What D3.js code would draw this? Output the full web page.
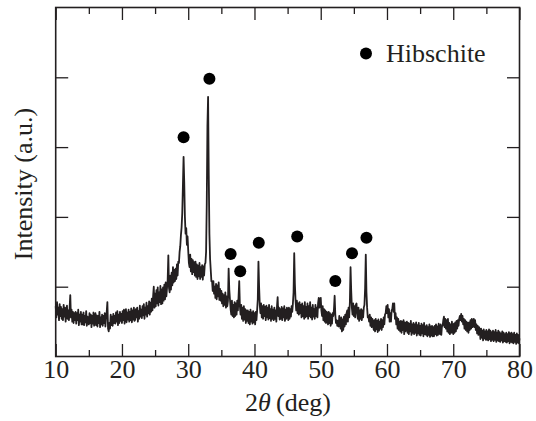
<!DOCTYPE html>
<html>
<head>
<meta charset="utf-8">
<script src="https://cdn.jsdelivr.net/npm/d3@7"></script>
<style>
  html, body { margin: 0; padding: 0; background: #fff; }
  svg { display: block; }
  text { font-family: "Liberation Serif", "Times New Roman", serif; fill: #231f20; }
</style>
</head>
<body>
<svg id="chart" width="536" height="421"></svg>
<script>
// ---- data ----
const angleStart = 10;     // 2θ of first sample (deg)
const angleStep = 0.1;     // sampling step (deg)
// intensity (a.u. x100), one row per degree (x.0 .. x.9), last value at 80.0
const intensity = `
72 56 78 60 70 52 75 58 71 54
68 52 74 57 70 50 64 73 54 66
52 70 88 56 67 50 64 48 62 52
64 47 62 52 67 45 60 50 64 46
60 46 63 45 58 49 65 44 57 48
46 62 48 60 42 58 47 63 44 56
62 45 59 43 58 48 64 42 56 46
60 44 58 48 62 43 56 64 78 40
36 48 40 60 45 57 44 61 48 58
47 63 50 65 45 60 48 64 51 61
48 65 52 67 47 61 68 49 63 53
67 50 64 52 69 49 66 53 70 51
53 68 56 70 50 65 54 73 57 67
55 72 59 75 54 70 60 77 57 72
62 79 60 77 64 83 66 86 100 70
90 72 95 76 99 73 92 78 101 75
96 76 99 80 103 82 106 86 98 110
145 98 92 116 96 120 102 128 106 124
108 126 111 132 116 136 134 150 158 174
185 205 245 286 250 200 176 184 160 172
152 134 128 146 122 140 118 138 121 135
116 136 114 132 111 130 115 134 111 128
114 131 110 129 116 132 134 150 220 330
372 260 175 140 124 108 108 94 108 90
100 84 104 82 102 86 106 81 97 80
94 76 90 72 88 74 92 70 86 72
80 126 96 82 68 60 80 58 74 56
78 58 76 60 80 66 86 108 72 60
74 54 70 51 72 53 68 48 66 51
66 48 64 46 67 50 63 47 65 49
62 46 64 52 66 82 136 100 74 62
76 56 72 54 74 58 71 52 73 56
70 53 74 55 68 51 72 54 67 52
70 54 66 50 72 85 58 70 53 68
54 71 52 69 56 72 51 67 54 70
64 52 70 54 68 57 72 64 76 92
148 104 80 66 80 62 76 60 78 62
74 56 76 58 72 54 78 56 71 58
76 54 72 58 78 56 70 53 74 57
68 54 74 58 70 56 76 84 70 82
84 66 58 72 52 68 50 66 48 64
60 46 64 48 62 44 60 47 62 58
68 87 60 48 52 44 51 43 58 46
40 56 36 53 38 57 43 60 46 62
66 50 70 56 78 128 94 70 60 76
58 72 56 74 76 62 54 70 51 66
54 68 52 66 56 70 74 98 146 92
70 56 58 50 60 44 56 42 54 46
38 52 36 54 39 51 35 53 37 50
40 54 38 52 42 56 46 60 62 72
62 74 56 68 50 62 50 66 68 76
64 76 54 62 46 56 40 54 38 50
36 51 34 50 38 52 32 49 36 48
50 34 48 32 47 36 51 31 46 34
48 32 46 34 49 30 45 33 48 31
44 30 47 33 45 29 48 32 43 31
45 29 42 31 46 28 43 30 44 29
42 29 44 32 46 30 43 31 47 34
32 46 31 44 44 52 57 42 54 40
52 36 54 34 48 32 46 34 50 36
32 47 34 49 36 51 40 52 44 54
58 52 61 50 58 46 54 40 52 38
50 36 48 34 49 38 52 40 54 42
46 54 42 52 38 46 33 44 31 42
38 25 40 27 37 23 39 26 36 24
38 24 36 23 39 25 37 22 35 24
37 22 35 24 38 21 34 23 37 22
35 21 33 23 36 20 34 22 32 21
34 20 32 22 35 19 33 21 34 20
32 19 34 21 31 18 33 20 31 19
26`.trim().split(/\s+/).map(Number);

// Hibschite reflections marked with filled circles
const peakAngles  = [29.3, 33.2, 36.4, 37.85, 40.65, 46.45, 52.2, 54.72, 56.9];
const peakMarkers = [314, 398, 147, 122, 163, 172, 108, 148, 170];

const xTickLabels = [10, 20, 30, 40, 50, 60, 70, 80];
const xMinorTicks = [15, 25, 35, 45, 55, 65, 75];
const yTicks = [100, 200, 300, 400];
const legendLabel = "Hibschite";

// ---- drawing ----
const svg = d3.select("#chart");
const L = 55.7, R = 519.5, T = 7.5, B = 356.5;
const x = d3.scaleLinear().domain([10, 80]).range([L, R]);
const y = d3.scaleLinear().domain([0, 500]).range([B, T]);
const ink = "#231f20";
const fs = 26;

const data = intensity.map((v, i) => ({ a: angleStart + i * angleStep, v }));

// line
svg.append("path")
  .datum(data)
  .attr("fill", "none")
  .attr("stroke", ink)
  .attr("stroke-width", 1.8)
  .attr("stroke-linejoin", "round")
  .attr("d", d3.line().x(d => x(d.a)).y(d => y(d.v)));

// axes (ticks pointing inward)
function styleAxis(g) {
  g.select(".domain").remove();
  g.selectAll(".tick line").attr("stroke", ink).attr("stroke-width", 1.3);
  g.selectAll("text").attr("font-size", fs).attr("fill", ink)
    .style("font-family", '"Liberation Serif", serif');
}
svg.append("g").attr("transform", `translate(0,${B})`)
  .call(d3.axisBottom(x).tickValues(xTickLabels).tickSize(-12.5).tickPadding(3).tickFormat(d3.format("d")))
  .call(styleAxis);
svg.append("g").attr("transform", `translate(0,${B})`)
  .call(d3.axisBottom(x).tickValues(xMinorTicks).tickSize(-6.5).tickFormat(""))
  .call(styleAxis);
svg.append("g").attr("transform", `translate(0,${T})`)
  .call(d3.axisTop(x).tickValues(xTickLabels).tickSize(-12.5).tickFormat(""))
  .call(styleAxis);
svg.append("g").attr("transform", `translate(0,${T})`)
  .call(d3.axisTop(x).tickValues(xMinorTicks).tickSize(-6.5).tickFormat(""))
  .call(styleAxis);
svg.append("g").attr("transform", `translate(${L},0)`)
  .call(d3.axisLeft(y).tickValues(yTicks).tickSize(-12.5).tickFormat(""))
  .call(styleAxis);
svg.append("g").attr("transform", `translate(${R},0)`)
  .call(d3.axisRight(y).tickValues(yTicks).tickSize(-12.5).tickFormat(""))
  .call(styleAxis);

// frame
svg.append("rect")
  .attr("x", L).attr("y", T).attr("width", R - L).attr("height", B - T)
  .attr("fill", "none").attr("stroke", ink).attr("stroke-width", 1.6);

// peak markers
svg.append("g").selectAll("circle")
  .data(peakAngles.map((a, i) => ({ a, v: peakMarkers[i] })))
  .join("circle")
  .attr("cx", d => x(d.a)).attr("cy", d => y(d.v)).attr("r", 6)
  .attr("fill", "#000");

// legend
svg.append("circle").attr("cx", 366).attr("cy", 53.5).attr("r", 6).attr("fill", "#000");
svg.append("text").attr("x", 386).attr("y", 62).attr("font-size", fs).text(legendLabel);

// axis titles
const xt = svg.append("text").attr("x", 288).attr("y", 411)
  .attr("text-anchor", "middle").attr("font-size", fs);
xt.append("tspan").text("2");
xt.append("tspan").attr("font-style", "italic").text("\u03B8");
xt.append("tspan").text("\u2009(deg)");

svg.append("text")
  .attr("transform", "translate(32,184) rotate(-90)")
  .attr("text-anchor", "middle").attr("font-size", fs)
  .text("Intensity (a.u.)");
</script>
</body>
</html>
